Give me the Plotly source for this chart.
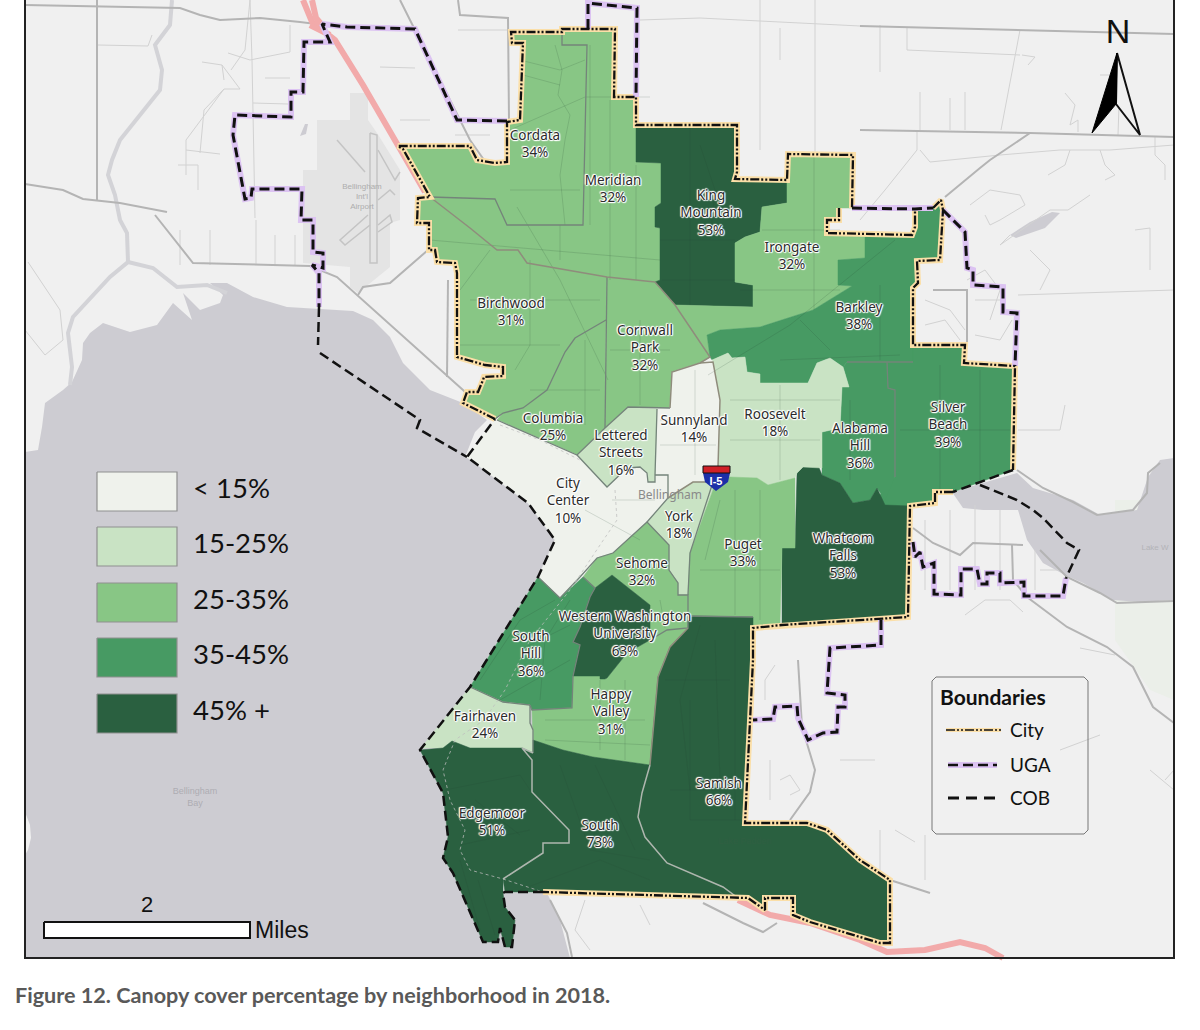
import plotly.graph_objects as go

# map is digitised in picture coordinates, y runs downwards
WIDTH = 1200
HEIGHT = 1030

class_labels = ["< 15%", "15-25%", "25-35%", "35-45%", "45% +"]
class_colors = ["#eff2ec", "#c9e3c4", "#88c685", "#479a63", "#2a6040"]
class_y = [491, 546, 602, 657, 713]

names = ["Cordata", "Meridian", "King<br>Mountain", "Irongate", "Birchwood", "Cornwall<br>Park", "Barkley",
         "Columbia", "Lettered<br>Streets", "Sunnyland", "Roosevelt", "Alabama<br>Hill", "Silver<br>Beach",
         "City<br>Center", "York", "Puget", "Whatcom<br>Falls", "Sehome", "Western Washington<br>University",
         "South<br>Hill", "Happy<br>Valley", "Fairhaven", "Edgemoor", "South", "Samish"]
canopy = [34, 32, 53, 32, 31, 32, 38, 25, 16, 14, 18, 36, 39, 10, 18, 33, 53, 32, 63, 36, 31, 24, 51, 73, 66]
label_x = [535, 613, 711, 792, 511, 645, 859, 553, 621, 694, 775, 860, 948, 568, 679, 743, 843, 642, 625,
           531, 611, 485, 492, 600, 719]
label_y = [145, 190, 214, 257, 313, 349, 317, 428, 454, 430, 424, 447, 426, 502, 526, 554, 557, 573, 635,
           655, 713, 726, 823, 835, 793]

cordata = [(511,32),(562,32),(562,45),(587,45),(583,225),(507,225),(495,199),(430,197),(425,193),(403,149),(398,146),
           (470,146),(477,160),(495,163),(507,162),(507,122),(520,120),(523,43),(512,43)]
meridian = [(562,29),(615,29),(614,97),(636,97),(636,162),(661,163),(661,203),(655,207),(655,227),(660,228),(660,280),
            (655,282),(607,277),(573,271),(527,263),(518,250),(497,250),(470,228),(430,197),(495,199),(507,225),
            (583,225),(587,45),(562,45)]
king_mountain = [(636,125),(737,125),(737,172),(735,179),(787,180),(787,203),(762,207),(760,232),(745,237),(735,243),
                 (735,282),(753,285),(753,307),(675,305),(655,282),(660,280),(660,228),(655,227),(655,207),(661,203),
                 (661,163),(636,162)]
irongate = [(788,154),(853,155),(852,208),(839,208),(839,220),(827,220),(827,233),(865,235),(865,258),(838,260),
            (838,285),(852,286),(813,310),(760,327),(720,330),(707,335),(710,357),(675,305),(753,307),(753,285),
            (735,282),(735,243),(745,237),(760,232),(762,207),(787,203),(787,180)]
birchwood = [(418,198),(430,197),(470,228),(497,250),(518,250),(527,263),(573,271),(607,277),(606,320),(575,338),
             (565,352),(552,380),(547,390),(523,408),(503,413),(495,419),(463,403),(467,392),(478,392),(483,380),
             (484,377),(503,376),(503,367),(485,365),(457,357),(457,273),(455,263),(437,262),(435,250),(429,250),
             (429,223),(417,223)]
columbia = [(606,320),(605,428),(577,455),(497,420),(503,413),(523,408),(547,390),(552,380),(565,352),(575,338)]
cornwall_park = [(607,277),(655,282),(675,305),(710,357),(700,363),(672,372),(670,408),(628,407),(605,428)]
barkley = [(912,235),(915,227),(915,209),(933,208),(941,200),(943,210),(940,260),(917,261),(918,283),(913,288),
           (913,362),(847,362),(843,367),(830,358),(817,363),(808,383),(760,383),(760,374),(747,372),(745,357),
           (732,358),(728,353),(712,360),(710,357),(707,335),(720,330),(760,327),(813,310),(852,286),(838,285),
           (838,260),(865,258),(865,235)]
silver_beach = [(887,362),(913,362),(913,345),(965,345),(964,363),(1015,366),(1013,470),(953,492),(935,492),(935,503),
                (910,506),(885,510),(880,495),(895,477),(895,390),(888,388)]
alabama_hill = [(847,362),(887,362),(888,388),(895,390),(895,477),(885,500),(877,488),(870,500),(853,503),(840,483),
                (822,475),(822,432),(840,428),(842,387),(849,387),(843,367)]
whatcom_falls = [(797,473),(803,467),(818,465),(822,475),(840,483),(853,503),(870,500),(877,488),(885,505),(910,506),
                 (908,617),(782,625),(782,548),(795,548)]
roosevelt = [(712,360),(728,353),(732,358),(745,357),(747,372),(760,374),(760,383),(808,383),(817,363),(830,358),
             (843,367),(849,387),(842,387),(840,428),(822,432),(822,468),(803,467),(797,473),(795,478),(768,485),
             (757,478),(730,477),(718,467),(720,400)]
sunnyland = [(672,372),(700,363),(712,360),(720,400),(718,467),(713,482),(693,482),(668,498),(668,475),(655,475),
             (657,409),(670,408)]
lettered_streets = [(605,428),(628,407),(657,409),(655,475),(655,482),(648,482),(647,473),(640,467),(627,468),
                    (607,487),(577,455)]
city_center = [(495,419),(577,455),(607,487),(627,468),(640,467),(647,473),(648,482),(655,482),(655,475),(668,475),
               (668,498),(647,522),(613,553),(597,558),(580,577),(560,598),(538,577),(555,540),(528,503),(467,457)]
york = [(647,522),(670,497),(693,482),(713,482),(713,490),(690,553),(688,595),(678,595),(678,583),(669,570),(669,545)]
puget = [(713,490),(690,553),(688,595),(688,616),(753,617),(753,628),(780,626),(782,548),(795,548),(795,478),
         (768,485),(757,478),(730,477),(713,482)]
sehome = [(647,522),(669,545),(669,570),(678,583),(678,595),(688,595),(688,628),(667,630),(650,640),(650,605),
          (612,575),(595,588),(583,577),(597,558),(613,553)]
wwu = [(612,575),(650,605),(650,640),(627,653),(607,678),(605,679),(600,679),(600,676),(573,676),(580,645),(573,642),
       (580,627),(590,597),(595,588)]
south_hill = [(538,577),(560,598),(583,577),(595,588),(590,597),(580,627),(573,642),(580,645),(573,676),(572,708),
              (532,710),(530,705),(503,702),(470,687)]
happy_valley = [(573,676),(600,676),(600,679),(605,679),(607,678),(627,653),(650,640),(667,630),(688,628),(670,647),
                (658,677),(650,765),(593,757),(563,750),(533,740),(532,710),(572,708)]
fairhaven = [(470,687),(503,702),(530,705),(530,723),(533,730),(533,753),(522,748),(470,748),(452,741),(443,748),
             (421,748)]
edgemoor = [(420,750),(443,748),(452,741),(470,748),(522,748),(532,760),(532,792),(569,830),(569,843),(543,843),
            (543,853),(503,879),(503,893),(505,907),(515,920),(512,947),(505,947),(500,928),(498,942),(483,942),
            (453,873),(443,858),(448,837),(443,793)]
south = [(522,748),(533,753),(533,740),(563,750),(593,757),(650,765),(642,793),(638,817),(645,837),(667,863),(700,877),
         (723,887),(738,898),(748,898),(543,892),(505,892),(503,879),(543,853),(543,843),(569,843),(569,830),(532,792),
         (532,760)]
samish = [(688,616),(753,617),(753,660),(745,823),(807,823),(827,830),(860,860),(890,880),(890,943),(880,943),(810,922),
          (793,915),(793,898),(765,898),(765,910),(748,898),(738,898),(723,887),(700,877),(667,863),(645,837),(638,817),
          (642,793),(650,765),(658,677),(670,647),(688,628)]

# polygon, class index
hoods = [(cordata, 2), (meridian, 2), (king_mountain, 4), (irongate, 2), (birchwood, 2), (columbia, 2),
         (cornwall_park, 2), (barkley, 3), (silver_beach, 3), (alabama_hill, 3), (whatcom_falls, 4), (roosevelt, 1),
         (sunnyland, 0), (lettered_streets, 1), (city_center, 0), (york, 1), (puget, 2), (sehome, 2), (south_hill, 3),
         (happy_valley, 2), (wwu, 4), (fairhaven, 1), (edgemoor, 4), (south, 4), (samish, 4)]

# only some neighbourhood edges carry a visible line in the map
gray_borders = [[(562,32),(562,45),(587,45),(583,225),(507,225),(495,199),(430,197)],
                [(607,277),(605,428)],
                [(606,320),(575,338),(565,352),(552,380),(547,390),(523,408),(503,413),(495,419)],
                [(497,420),(577,455),(605,428),(628,407),(670,408)],
                [(577,455),(607,487),(627,468),(640,467),(647,473),(648,482),(655,482),(655,475),(657,409)],
                [(655,475),(668,475),(668,498),(647,522),(669,545),(669,570),(678,583),(678,595),(688,595),(688,628),
                 (667,630),(650,640)],
                [(713,482),(690,553),(688,595)],
                [(647,522),(613,553),(597,558),(580,577),(560,598),(538,577)],
                [(583,577),(595,588),(590,597),(580,627),(573,642),(580,645),(573,676),(572,708),(532,710),(530,705)],
                [(470,687),(503,702),(530,705)],
                [(530,705),(530,723),(533,730),(533,753)],
                [(847,362),(913,362)],
                [(887,362),(888,388),(895,390),(895,477)],
                [(688,616),(753,617)]]
brown_borders = [[(430,197),(470,228),(497,250),(518,250),(527,263),(573,271),(607,277),(655,282)],
                 [(655,282),(675,305),(710,357),(700,363),(672,372),(670,408)],
                 [(668,498),(693,482),(713,482),(718,467),(720,400),(713,362),(700,363)],
                 [(688,628),(670,647),(658,677),(650,765)]]
light_borders = [[(533,753),(522,748),(532,760),(532,792),(569,830),(569,843),(543,843),(543,853),(503,879)],
                 [(650,765),(642,793),(638,817),(645,837),(667,863),(700,877),(723,887),(738,898)]]

bay = [(25,452),(38,450),(42,427),(45,403),(63,390),(72,382),(82,360),(83,343),(90,333),(103,323),(130,332),(157,325),
       (173,303),(192,320),(183,293),(200,310),(220,303),(223,295),(210,283),(227,283),(253,297),(287,307),(353,311),
       (373,320),(390,337),(403,363),(430,390),(463,403),(487,420),(475,432),(465,457),(560,500),(560,700),(500,892),
       (547,893),(560,920),(570,958),(25,958)]
bay_spit = [(25,812),(30,825),(31,838),(28,850),(25,855)]
lake_whatcom = [(952,492),(1017,473),(1033,488),(1073,500),(1100,515),(1137,510),(1148,477),(1160,460),(1174,458),
                (1174,600),(1140,602),(1113,600),(1083,583),(1065,575),(1043,563),(1027,540),(1018,510),(983,510),(963,508)]
airport = [(350,93),(368,93),(368,120),(377,133),(400,170),(400,220),(390,223),(390,267),(358,293),(350,287),(350,267),
           (303,263),(303,170),(317,170),(317,120),(350,120)]
small_lake = [(1010,235),(1030,222),(1052,212),(1060,213),(1045,228),(1016,238)]
pond = [(300,136),(305,124),(308,124),(306,134)]
green_patch = [(1115,500),(1174,500),(1174,700),(1150,690),(1115,640)]

rivers = [[(172,0),(170,25),(155,45),(162,70),(160,90),(140,115),(120,140),(112,160),(108,175),(115,195),(120,220),
           (127,233),(128,262),(110,277),(73,317),(68,333),(72,367),(70,385)],
          [(128,262),(153,268),(177,287),(207,285),(227,293)]]

major_roads = [[(25,5),(180,8),(200,15),(220,20),(260,18),(300,22),(340,27),(415,30)],
               [(25,184),(63,190),(83,199),(120,203),(167,212)],
               [(155,215),(193,263),(310,266),(337,277),(463,390),(485,412)],
               [(97,0),(97,200)],
               [(400,0),(415,30),(470,140),(517,207)],
               [(458,0),(460,15),(508,18),(509,120)],
               [(358,295),(363,287),(390,283),(428,250)],
               [(448,280),(447,377)],
               [(860,26),(1023,30),(1174,34)],
               [(860,130),(1000,132),(1030,133),(1174,137)],
               [(1030,133),(990,160),(980,168),(945,197)],
               [(1017,470),(1043,488),(1073,502),(1097,515),(1133,510),(1147,493),(1148,473),(1160,463)],
               [(913,528),(933,543),(960,555),(973,543),(1023,545)],
               [(1012,545),(1013,580),(1027,597),(1067,627),(1107,647),(1133,667),(1153,707),(1174,723)],
               [(1040,550),(1067,577),(1100,593),(1117,603),(1174,601)],
               [(798,660),(802,727),(815,770),(810,792),(790,820)],
               [(550,900),(567,933),(572,957)],
               [(703,903),(743,923),(763,932),(777,923)],
               [(890,880),(930,893)],
               [(933,290),(967,290),(967,345)]]
minor_roads = [[(25,330),(45,355),(63,340),(60,310),(28,262)],
               [(98,45),(148,46),(152,35)],
               [(202,62),(222,65),(224,80)],
               [(200,153),(204,110),(224,89),(240,89),(222,65)],
               [(186,175),(186,140),(224,89)],
               [(186,150),(220,154)],
               [(178,165),(198,165),(198,190)],
               [(250,0),(252,60),(255,218)],
               [(228,53),(250,60),(290,52),(290,25)],
               [(253,103),(288,104)],
               [(265,78),(290,78)],
               [(180,230),(180,265)],
               [(210,230),(210,265)],
               [(256,220),(256,265)],
               [(275,235),(275,265)],
               [(295,235),(295,265)],
               [(250,0),(245,50),(231,70)],
               [(545,125),(545,30)],
               [(520,96),(560,97)],
               [(415,68),(380,67)],
               [(510,30),(458,30)],
               [(455,135),(490,135)],
               [(400,120),(430,120)],
               [(640,20),(700,18),(860,26)],
               [(760,0),(760,150)],
               [(815,0),(815,155)],
               [(780,28),(780,60)],
               [(880,25),(880,72)],
               [(907,28),(907,50),(1020,55)],
               [(1022,55),(1035,57),(1028,65)],
               [(1001,130),(1020,30)],
               [(920,92),(920,130)],
               [(950,98),(950,130)],
               [(965,92),(965,130)],
               [(1100,75),(1120,75),(1118,135)],
               [(1065,93),(1075,105),(1070,125),(1078,120),(1078,132)],
               [(917,130),(917,150),(885,190),(860,220)],
               [(920,150),(930,162),(1000,155),(1060,150),(1110,150),(1174,145)],
               [(1100,150),(1105,165),(1115,175),(1105,180)],
               [(1070,150),(1065,165),(1048,175)],
               [(1155,137),(1155,155),(1165,165),(1165,180)],
               [(970,205),(990,190),(1020,195),(1025,205),(1000,220),(990,225),(985,215)],
               [(1010,235),(1000,245),(1050,210),(1068,210),(1090,195)],
               [(1135,230),(1150,228),(1150,270)],
               [(967,280),(985,270),(1000,290),(990,320)],
               [(925,300),(950,310),(965,330)],
               [(925,325),(945,320),(960,340)],
               [(975,300),(1000,300)],
               [(975,335),(1000,340),(1012,320)],
               [(1030,250),(1050,270),(1040,290)],
               [(1018,295),(1174,290)],
               [(1018,430),(1060,430),(1065,405)],
               [(925,520),(925,590)],
               [(950,510),(950,590)],
               [(975,505),(975,590)],
               [(1000,510),(1000,590)],
               [(1035,550),(1035,590)],
               [(1040,570),(1062,570)],
               [(965,615),(985,600),(1010,600),(1023,612)],
               [(1080,648),(1115,655)],
               [(770,760),(770,800)],
               [(780,780),(790,775),(800,790),(790,795)],
               [(765,700),(765,680),(775,665)],
               [(840,760),(875,760)],
               [(880,830),(880,870)],
               [(925,835),(925,880)],
               [(895,830),(915,842)],
               [(585,900),(575,930),(590,950)],
               [(640,905),(650,925)],
               [(1060,750),(1100,735)],
               [(1150,770),(1174,790)],
               [(1165,780),(1174,770)]]
runways = [[(370,133),(370,263),(377,263),(377,135),(370,133)],
           [(368,215),(340,240),(345,245),(370,225)],
           [(337,140),(365,172)],
           [(378,150),(395,180),(400,172)],
           [(378,200),(390,190),(395,195)],
           [(378,225),(390,215),(392,222),(378,232)]]
freeway = [[(303,0),(312,22),(335,40),(363,85),(425,192)],
           [(312,0),(316,18),(322,25)],
           [(310,25),(330,35)],
           [(738,900),(770,915),(810,923),(860,940),(887,952),(925,950),(960,942),(985,948),(1003,958)]]

# streets that show through the colour fill
inner_roads = [[(517,207),(560,280),(608,380)],
               [(555,45),(562,70),(558,95),(570,115),(565,140),(560,175),(565,225)],
               [(520,60),(560,70),(585,60)],
               [(510,130),(585,97),(650,97)],
               [(510,190),(580,190)],
               [(523,75),(560,85)],
               [(430,240),(660,260)],
               [(560,225),(560,260)],
               [(590,45),(590,225)],
               [(610,100),(610,280)],
               [(636,165),(636,280)],
               [(490,250),(460,290)],
               [(530,260),(530,345),(515,370)],
               [(470,300),(600,300)],
               [(460,345),(560,345)],
               [(690,125),(690,305)],
               [(660,240),(735,240)],
               [(662,280),(735,280)],
               [(700,145),(715,190),(710,240)],
               [(814,155),(814,310)],
               [(740,290),(840,290)],
               [(762,230),(840,230)],
               [(895,240),(790,325),(708,375)],
               [(800,320),(830,350)],
               [(880,285),(880,360)],
               [(780,360),(900,355)],
               [(940,365),(940,490)],
               [(900,430),(1010,430)],
               [(980,370),(980,480)],
               [(850,400),(850,480)],
               [(640,320),(640,405)],
               [(610,350),(670,350)],
               [(585,340),(585,425)],
               [(530,390),(600,390)],
               [(695,370),(695,475)],
               [(660,420),(716,420)],
               [(660,445),(716,445)],
               [(730,400),(840,400)],
               [(730,440),(820,440)],
               [(780,385),(780,480)],
               [(612,500),(655,500)],
               [(585,510),(640,540)],
               [(735,490),(735,615)],
               [(700,570),(780,570)],
               [(760,490),(760,620)],
               [(705,560),(720,500)],
               [(660,600),(665,628)],
               [(520,650),(570,625)],
               [(540,700),(545,640),(570,600)],
               [(480,680),(520,620),(555,600)],
               [(500,700),(570,660)],
               [(545,720),(645,720)],
               [(545,740),(650,745)],
               [(600,680),(600,750)],
               [(625,680),(625,760)],
               [(700,625),(680,700),(690,790)],
               [(665,680),(730,680)],
               [(715,640),(720,780)],
               [(735,630),(735,820)],
               [(670,790),(720,790)],
               [(690,700),(690,820),(745,820)],
               [(560,765),(590,850),(650,860)],
               [(595,765),(635,850)],
               [(445,790),(520,775),(530,790)],
               [(460,845),(530,830)],
               [(475,800),(520,835)],
               [(520,890),(600,860),(650,880)],
               [(478,880),(495,935)],
               [(460,860),(480,930)]]
# rail trail, drawn dotted
rail_trail = [[(500,425),(540,440),(580,460)],
              [(615,490),(617,520),(600,545),(570,590),(530,640),(505,690),(484,720),(455,740),(443,770),(450,800),
                (465,830),(460,850),(470,870),(503,879),(543,892)]]

city_line = [[(495,419),(463,403),(467,392),(478,392),(483,380),(484,377),(503,376),(503,367),(485,365),(457,357),
              (457,273),(455,263),(437,262),(435,250),(429,250),(429,223),(417,223),(418,198),(430,197),(403,149),
              (398,146),(470,146),(477,160),(495,163),(507,162),(507,122),(520,120),(523,43),(512,43),(511,32),
              (562,32),(562,29),(615,29),(614,97),(636,97),(636,125),(737,125),(737,172),(735,179),(787,180),
              (788,154),(853,155),(852,208)],
             [(839,208),(839,220),(827,220),(827,233),(912,235),(915,227),(915,209)],
             [(933,208),(941,200),(943,210),(940,260),(917,261),(918,283),(913,288),(913,345),(965,345),(964,363),
              (1015,366),(1013,470)],
             [(953,492),(935,492),(935,503),(910,506),(908,617),(782,625),(753,628),(753,660),(745,823),(807,823),
              (827,830),(860,860),(890,880),(890,943),(880,943),(810,922),(793,915),(793,898),(765,898),(765,910),
              (748,898),(543,892)]]
uga_line = [[(507,121),(457,120),(415,29),(347,27),(322,24),(330,42),(304,42),(303,92),(291,92),(291,117),(235,115),
             (233,135),(245,199),(251,198),(252,189),(302,189),(301,220),(313,220),(313,252),(323,253),(323,268),
             (312,265),(319,273),(319,307)],
            [(588,29),(588,3),(637,8),(636,97)],
            [(852,208),(915,209),(933,208)],
            [(943,210),(965,232),(967,268),(973,270),(973,285),(1003,287),(1003,312),(1017,313),(1015,366)],
            [(913,542),(915,557),(920,552),(923,567),(934,563),(934,594),(961,595),(961,569),(977,569),(980,584),
             (987,584),(987,573),(1000,573),(1000,583),(1024,582),(1024,596),(1063,596),(1066,578)],
            [(881,620),(881,645),(830,648),(827,693),(845,695),(845,707),(838,707),(837,732),(823,733),(808,740),
             (798,718),(797,706),(775,707),(773,719),(753,720)]]
cob_line = [[(319,307),(318,345)],
            [(320,353),(420,420),(417,428),(467,457)],
            [(1013,470),(953,492)],
            [(980,485),(1017,500),(1033,510),(1043,518),(1067,543),(1079,550),(1066,578)],
            [(543,892),(505,892),(503,893),(505,907),(515,920),(512,947),(505,947),(500,928),(498,942),(483,942),
             (453,873),(443,858),(448,837),(443,793),(420,750),(470,687),(538,577),(555,540),(528,503),(467,457),(495,419)]]

shield_red = [(703,466),(730,466),(730,473),(703,473)]
shield_blue = [(703,473),(730,473),(728,482),(716,491),(705,482)]
arrow_left = [(1117,53),(1092,133),(1116,104)]
arrow_right = [(1117,53),(1140,135),(1116,104)]
legend_box = [(936,677),(1084,677),(1088,681),(1088,830),(1084,834),(936,834),(932,830),(932,681),(936,677)]

map_frame = [25, 0, 1174, 958]
scale_bar = [44, 922, 250, 938]
swatch_x = [97, 177]
swatch_h = 39
legend_line_x = [[946, 1001], [948, 997], [948, 1000]]
legend_line_y = [730, 765, 798]
legend_names = ["City", "UGA", "COB"]

faint_text = ["Bellingham<br>Bay", "Lake W", "Bellingham<br>Int'l<br>Airport", "Lake Padden"]
faint_x = [195, 1155, 362, 745]
faint_y = [798, 548, 197, 842]
faint_size = [9, 8, 8, 9]
faint_color = ["#adadb3", "#b3b3b8", "#adadad", "#2f5f42"]

CITY_DASH = "9px,2px,2px,2px,2px,2px"
COB_DASH = "10px,5px"
UGA_DASH = "10px,5px"
UGA_HALO = "#dcc3f2"
CITY_HALO = "#fbdfa8"


def xs(points):
    return [p[0] for p in points]


def ys(points):
    return [p[1] for p in points]


def add_line(fig, points, color, width, dash="solid"):
    fig.add_trace(go.Scatter(x=xs(points), y=ys(points), mode="lines", hoverinfo="skip",
                             line=dict(color=color, width=width, dash=dash)))


def add_poly(fig, points, fill, line_color=None, line_width=0):
    fig.add_trace(go.Scatter(x=xs(points) + [points[0][0]], y=ys(points) + [points[0][1]], mode="lines", fill="toself",
                             fillcolor=fill, hoverinfo="skip",
                             line=dict(color=line_color or fill, width=line_width)))


def add_text(fig, x, y, text, size, color="#111111", family="Lato", position="middle center", shadow=None, bold=False):
    fig.add_trace(go.Scatter(x=x, y=y, text=text, mode="text", textposition=position, hoverinfo="skip",
                             textfont=dict(size=size, color=color, family=family, shadow=shadow or "none",
                                           weight="bold" if bold else "normal")))


fig = go.Figure()

# base map
x0, y0, x1, y1 = map_frame
add_poly(fig, [(x0, y0), (x1, y0), (x1, y1), (x0, y1)], "#f0f0f0")
add_poly(fig, airport, "#e4e4e4")
add_poly(fig, green_patch, "#ebefe9")
add_poly(fig, bay, "#cdccd2")
add_poly(fig, bay_spit, "#f0f0f0")
add_poly(fig, lake_whatcom, "#cdccd2")
add_poly(fig, small_lake, "#cdccd2")
add_poly(fig, pond, "#cdccd2")
for r in rivers:
    add_line(fig, r, "#d3d3d7", 4)
for r in minor_roads:
    add_line(fig, r, "#d2d2d2", 1)
for r in runways:
    add_line(fig, r, "#c4c4c4", 1.5)
for r in major_roads:
    add_line(fig, r, "#b4b4b4", 2)
for r in freeway:
    add_line(fig, r, "#f2aaaa", 6)

# neighbourhoods
for poly, cls in hoods:
    add_poly(fig, poly, class_colors[cls], class_colors[cls], 0.5)
for r in inner_roads:
    add_line(fig, r, "rgba(40,70,50,0.16)", 1)
for seg in gray_borders:
    add_line(fig, seg, "#74847a", 1.3)
for seg in brown_borders:
    add_line(fig, seg, "#8f8c7c", 1.5)
for seg in light_borders:
    add_line(fig, seg, "#aeb6ae", 1.5)
for r in rail_trail:
    add_line(fig, r, "rgba(190,190,190,0.75)", 1, "dot")

# boundaries
for seg in city_line:
    add_line(fig, seg, CITY_HALO, 6)
for seg in uga_line:
    add_line(fig, seg, UGA_HALO, 6)
for seg in city_line:
    add_line(fig, seg, "#111111", 2.3, CITY_DASH)
for seg in uga_line:
    add_line(fig, seg, "#111111", 3, UGA_DASH)
for seg in cob_line:
    add_line(fig, seg, "#111111", 2.5, COB_DASH)

# I-5 shield
add_poly(fig, shield_blue, "#1c2fa8")
add_poly(fig, shield_red, "#cf2027", "#111111", 1)
add_text(fig, [716], [482], ["I-5"], 11, "#ffffff", "Liberation Sans", bold=True)

# small base map names
for t, tx, ty, sz, col in zip(faint_text, faint_x, faint_y, faint_size, faint_color):
    add_text(fig, [tx], [ty], [t], sz, col, "Liberation Sans")
add_text(fig, [670], [496], ["Bellingham"], 12, "#8a8a8a", "Noto Sans")

# neighbourhood labels with white halo
halo = "1px 0 1px #fff, -1px 0 1px #fff, 0 1px 1px #fff, 0 -1px 1px #fff, 1px 1px 1px #fff, -1px -1px 1px #fff"
label_text = [f"{n}<br>{c}%" for n, c in zip(names, canopy)]
add_text(fig, label_x, label_y, label_text, 13.5, "#2b2b2b", "Noto Sans", shadow=halo)

# class legend
for cy, col in zip(class_y, class_colors):
    top = cy - 19
    add_poly(fig, [(swatch_x[0], top), (swatch_x[1], top), (swatch_x[1], top + swatch_h), (swatch_x[0], top + swatch_h)],
             col, "#8f8f8f", 1.2)
add_text(fig, [193] * 5, class_y, class_labels, 27.5, "#111111", "Lato", "middle right")

# boundaries legend
add_line(fig, legend_box, "#777777", 1)
add_text(fig, [940], [700], ["Boundaries"], 21, "#111111", "Lato", "middle right", bold=True)
add_line(fig, list(zip(legend_line_x[0], [legend_line_y[0]] * 2)), CITY_HALO, 4)
add_line(fig, list(zip(legend_line_x[1], [legend_line_y[1]] * 2)), UGA_HALO, 6)
add_line(fig, list(zip(legend_line_x[0], [legend_line_y[0]] * 2)), "#111111", 1.5, CITY_DASH)
add_line(fig, list(zip(legend_line_x[1], [legend_line_y[1]] * 2)), "#111111", 2.5, UGA_DASH)
add_line(fig, list(zip(legend_line_x[2], [legend_line_y[2]] * 2)), "#111111", 3, "11px,7px")
add_text(fig, [1010] * 3, [y + 2 for y in legend_line_y], legend_names, 19, "#111111", "Lato", "middle right")

# north arrow
add_poly(fig, arrow_right, "#f0f0f0", "#111111", 2)
add_poly(fig, arrow_left, "#000000", "#000000", 1)
add_text(fig, [1118], [34], ["N"], 34, "#111111", "Liberation Sans")

# scale bar
bx0, by0, bx1, by1 = scale_bar
add_poly(fig, [(bx0, by0), (bx1, by0), (bx1, by1), (bx0, by1)], "#ffffff", "#111111", 2)
add_text(fig, [147], [906], ["2"], 22, "#111111", "Liberation Sans")
add_text(fig, [255], [932], ["Miles"], 23, "#111111", "Liberation Sans", "middle right")

# frame, drawn last so it sits on the map edges
add_line(fig, [(x0, y0), (x0, y1), (x1, y1), (x1, y0)], "#222222", 2)

add_text(fig, [15], [998], ["Figure 12. Canopy cover percentage by neighborhood in 2018."], 21.6, "#595959", "Lato",
         "middle right", bold=True)

fig.update_layout(width=WIDTH, height=HEIGHT, autosize=False, showlegend=False, plot_bgcolor="#ffffff",
                  paper_bgcolor="#ffffff", margin=dict(l=0, r=0, t=0, b=0),
                  xaxis=dict(range=[0, WIDTH], visible=False, fixedrange=True),
                  yaxis=dict(range=[HEIGHT, 0], visible=False, fixedrange=True))

fig.write_html("out.html", post_script="document.body.style.margin='0';", config=dict(displayModeBar=False))
